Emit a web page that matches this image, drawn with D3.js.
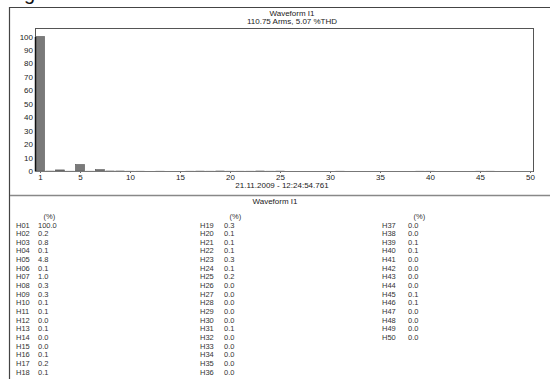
<!DOCTYPE html>
<html><head><meta charset="utf-8">
<script src="https://cdn.jsdelivr.net/npm/d3@7"></script>
<style>
html,body{margin:0;padding:0;background:#fff;}
svg{display:block;}
text{font-family:"Liberation Sans",Arial,sans-serif;}
</style></head>
<body>
<svg id="c" width="550" height="379"></svg>
<script>
const harmonics = d3.range(1, 51);
const harmonicLabels = harmonics.map(h => "H" + String(h).padStart(2, "0"));
const values = [100.0,0.2,0.8,0.1,4.8,0.1,1.0,0.3,0.3,0.1,
                0.1,0.0,0.1,0.0,0.0,0.1,0.2,0.1,0.3,0.1,
                0.1,0.1,0.3,0.1,0.2,0.0,0.0,0.0,0.0,0.0,
                0.1,0.0,0.0,0.0,0.0,0.0,0.0,0.0,0.1,0.1,
                0.0,0.0,0.0,0.0,0.1,0.1,0.0,0.0,0.0,0.0];
const xTicks = [1,5,10,15,20,25,30,35,40,45,50];
const yTicks = d3.range(0, 101, 10);
const titleLine1 = "Waveform I1";
const titleLine2 = "110.75 Arms, 5.07 %THD";
const timestamp = "21.11.2009 - 12:24:54.761";
const tableTitle = "Waveform I1";
const unitLabel = "(%)";

(function () {
const svg = d3.select("#c");

svg.append("text").attr("x", 24).attr("y", 0).attr("font-family", "Liberation Serif, serif")
  .attr("font-size", 20).attr("fill", "#111").text("g");

svg.append("path").attr("d", "M9.5,379V7.5H550").attr("fill", "none").attr("stroke", "#444").attr("stroke-width", 1.2);
svg.append("line").attr("x1", 10).attr("x2", 550).attr("y1", 195.5).attr("y2", 195.5)
  .attr("stroke", "#888").attr("stroke-width", 1.5);

const pL = 35, pR = 533, pT = 28, pB = 171;
const x = d3.scaleLinear().domain([1, 50]).range([40, 530]);
const y = d3.scaleLinear().domain([0, 100]).range([pB, 36.5]);

svg.append("rect").attr("x", pL + 0.5).attr("y", pT + 0.5).attr("width", pR - pL).attr("height", pB - pT)
  .attr("fill", "none").attr("stroke", "#555").attr("stroke-width", 1);

const bw = x(1.9) - x(1);
svg.append("g").selectAll("rect").data(harmonics.map((h, i) => ({h, v: values[i]})).filter(d => d.v > 0))
  .join("rect")
  .attr("x", d => x(d.h) - bw / 2)
  .attr("y", d => y(d.v))
  .attr("width", bw)
  .attr("height", d => y(0) - y(d.v))
  .attr("fill", "#7a7a7a")
  .attr("stroke", d => d.v >= 0.5 ? "#555" : "none").attr("stroke-width", 0.6);

const xAxis = svg.append("g").attr("transform", `translate(0,${pB})`)
  .call(d3.axisBottom(x).tickValues(xTicks).tickSize(2).tickPadding(1));
xAxis.select(".domain").remove();
xAxis.selectAll("line").attr("stroke", "#666");
xAxis.selectAll("text").attr("font-size", 8).attr("fill", "#222").attr("font-family", "Liberation Sans, Arial, sans-serif");

const yAxis = svg.append("g").attr("transform", `translate(${pL},0)`)
  .call(d3.axisLeft(y).tickValues(yTicks).tickSize(0).tickPadding(2));
yAxis.select(".domain").attr("stroke", "#111").attr("stroke-width", 1.5);
yAxis.selectAll("text").attr("font-size", 8).attr("fill", "#222").attr("font-family", "Liberation Sans, Arial, sans-serif");

svg.append("line").attr("x1", pL).attr("x2", pR).attr("y1", pB + 0.5).attr("y2", pB + 0.5)
  .attr("stroke", "#777").attr("stroke-width", 1.2);

svg.append("text").attr("x", 292).attr("y", 15.5).attr("text-anchor", "middle").attr("font-size", 8).attr("fill", "#222").text(titleLine1);
svg.append("text").attr("x", 292).attr("y", 23.5).attr("text-anchor", "middle").attr("font-size", 8).attr("fill", "#222").text(titleLine2);
svg.append("text").attr("x", 282).attr("y", 188).attr("text-anchor", "middle").attr("font-size", 8).attr("fill", "#222").text(timestamp);
svg.append("text").attr("x", 275).attr("y", 204).attr("text-anchor", "middle").attr("font-size", 8).attr("fill", "#222").text(tableTitle);

const cols = [{lx: 16, vx: 38}, {lx: 200, vx: 224}, {lx: 382, vx: 408}];
const rowH = 8.65, row0 = 227.5;
cols.forEach(c => {
  svg.append("text").attr("x", c.vx + 5.5).attr("y", row0 - 8.2).attr("font-size", 7.5).attr("fill", "#333").text(unitLabel);
});
const tbl = svg.append("g");
harmonics.forEach((h, i) => {
  const ci = Math.floor(i / 18), ri = i % 18;
  const c = cols[ci];
  const yy = row0 + ri * rowH;
  tbl.append("text").attr("x", c.lx).attr("y", yy).attr("font-size", 7.5).attr("fill", "#333").text(harmonicLabels[i]);
  tbl.append("text").attr("x", c.vx).attr("y", yy).attr("font-size", 7.5).attr("fill", "#333").text(values[i].toFixed(1));
});
})();
</script>
</body></html>
